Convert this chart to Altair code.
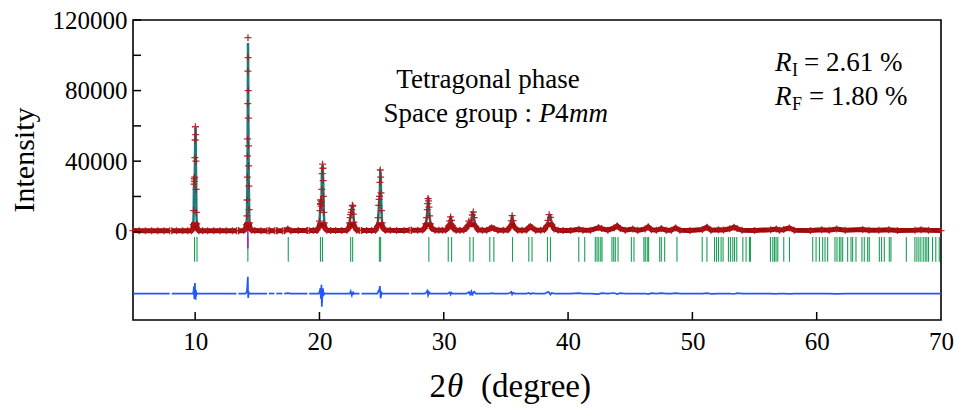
import altair as alt
import pandas as pd

# ---------------- data ----------------
# observed profile (2theta, intensity) and difference (obs - calc)
two_theta = [
    5.0, 5.5, 6.0, 6.5, 7.0, 7.5, 8.0, 8.5, 9.0, 9.4, 9.7,
    9.80, 9.85, 9.88, 9.90, 9.92, 9.94, 9.96, 9.98, 10.00, 10.02, 10.04, 10.06, 10.08, 10.10, 10.13, 10.18, 10.30,
    10.6, 11.0, 11.5, 12.0, 12.5, 13.0, 13.5, 13.9,
    14.05, 14.12, 14.16, 14.18, 14.20, 14.21, 14.22, 14.23, 14.24, 14.25, 14.26, 14.27, 14.28, 14.29, 14.30, 14.32, 14.34, 14.37, 14.42, 14.55,
    14.8, 15.3, 16.0, 16.6, 17.2, 17.45, 17.7, 18.3, 19.0, 19.5, 19.8,
    19.95, 20.00, 20.04, 20.07, 20.09, 20.11, 20.13, 20.16, 20.19, 20.22, 20.25, 20.28, 20.30, 20.32, 20.35, 20.39, 20.45, 20.60,
    20.9, 21.3, 21.8, 22.2,
    22.35, 22.42, 22.47, 22.51, 22.55, 22.60, 22.65, 22.69, 22.73, 22.78, 22.85, 23.00,
    23.4, 23.8, 24.2, 24.5,
    24.65, 24.72, 24.77, 24.80, 24.83, 24.86, 24.89, 24.92, 24.95, 24.99, 25.04, 25.12, 25.30,
    25.7, 26.2, 26.8, 27.4, 27.9, 28.3,
    28.45, 28.55, 28.62, 28.67, 28.71, 28.74, 28.77, 28.81, 28.86, 28.93, 29.05, 29.30,
    29.6, 29.9, 30.15,
    30.30, 30.40, 30.48, 30.55, 30.62, 30.70, 30.82, 31.00,
    31.3, 31.6,
    31.80, 31.92, 32.02, 32.12, 32.22, 32.30, 32.37, 32.45, 32.57, 32.75,
    33.1, 33.45, 33.7, 33.85, 34.05, 34.35, 34.8,
    35.15, 35.32, 35.43, 35.50, 35.58, 35.70, 35.95,
    36.3, 36.65, 36.85, 36.97, 37.12, 37.4, 37.8,
    38.10, 38.27, 38.38, 38.48, 38.58, 38.70, 38.88, 39.20,
    39.6, 40.2, 40.86, 41.2, 41.8, 42.45, 42.70, 43.20, 43.70, 43.95,
    44.20, 44.60, 45.20, 45.60, 46.20, 46.45, 46.70, 47.10, 47.50, 47.90,
    48.30, 48.65, 49.00, 49.80, 50.80, 51.17, 51.50, 52.10, 52.50, 53.00,
    53.35, 53.60, 54.00, 55.00, 56.30, 56.75, 57.00, 57.35, 57.80, 58.20,
    59.50, 60.40, 61.00, 61.60, 62.30, 63.70, 64.20, 65.00, 65.80, 66.50,
    67.90, 68.40, 69.00, 70.00,
]
i_obs = [
    650, 620, 600, 580, 560, 550, 540, 530, 530, 550, 600,
    1500, 4000, 12000, 27000, 30000, 28500, 31000, 42000, 52000, 59500, 55000, 40000, 24000, 11000, 4500, 1500, 600,
    580, 570, 560, 560, 570, 580, 620, 700,
    1500, 4000, 9000, 18000, 31000, 43000, 52600, 72600, 91000, 110000, 98700, 80000, 64400, 48700, 37300, 25900, 12600, 5000, 2000, 800,
    650, 620, 600, 600, 620, 1500, 640, 650, 660, 700, 750,
    2500, 6000, 12000, 16000, 18000, 15500, 14500, 17000, 24000, 33000, 38300, 36000, 29000, 20000, 11000, 5000, 2000, 800,
    750, 720, 730, 850,
    2000, 5000, 8000, 9700, 11000, 12600, 15000, 14500, 10000, 5500, 2500, 900,
    780, 760, 780, 850,
    3000, 8000, 15000, 18300, 20000, 28000, 35000, 31000, 22000, 12000, 5000, 2000, 900,
    800, 780, 770, 790, 820, 950,
    2000, 4500, 8000, 12500, 16000, 18800, 17500, 14000, 9000, 4500, 1800, 900,
    850, 850, 950,
    1800, 3500, 6000, 8400, 6500, 3500, 1500, 900,
    850, 950,
    1800, 3500, 6000, 5000, 6500, 9500, 11200, 8000, 3000, 1100,
    850, 900, 1700, 2300, 1800, 850, 800,
    1000, 2800, 6200, 9100, 6300, 2400, 900,
    800, 1000, 2500, 3000, 2300, 900, 850,
    1200, 3200, 6500, 9700, 8200, 4200, 1600, 850,
    780, 750, 1400, 900, 800, 2400, 1800, 900, 2200, 3300,
    1800, 900, 1500, 800, 1600, 2800, 1200, 850, 1800, 900,
    850, 2200, 800, 750, 1300, 2600, 900, 1100, 1000, 1700,
    2600, 1800, 800, 700, 1200, 1500, 900, 1300, 2200, 800,
    700, 1100, 900, 1500, 900, 1300, 900, 800, 1200, 700,
    900, 1100, 800, 700,
]
i_diff = [
    0, 0, 0, 0, 0, 0, 0, 0, 0, 0, 0,
    0, 500, 2000, 4000, -1000, -3000, 1500, 6000, 2500, 500, -3500, 2000, -1500, 500, 0, 0, 0,
    0, 0, 0, 0, 0, 0, 0, 0,
    0, 500, 1500, 3000, 4500, 6000, 7500, 8500, 9500, 3000, -1000, -2500, -1500, 500, 1000, 500, 0, 0, 0, 0,
    0, 0, 0, 0, 0, 200, 0, 0, 0, 0, 0,
    0, 1000, 2000, 3000, 1500, -3000, -1000, 5000, -7500, -3000, 500, 3000, 1500, -1500, 500, 0, 0, 0,
    0, 0, 0, 0,
    0, 0, 500, 1200, 0, -1000, 800, -800, 500, 0, 0, 0,
    0, 0, 0, 0,
    0, 800, 2000, 1000, 2500, 4200, 1000, -2700, -1500, 500, 0, 0, 0,
    0, 0, 0, 0, 0, 0,
    0, 300, 800, 1500, 500, -1000, -500, 800, 300, 0, 0, 0,
    0, 0, 0,
    0, 300, 700, -600, 400, 0, 0, 0,
    0, 0,
    0, 300, 800, -500, 1200, -1200, 600, 1000, 0, 0,
    0, 0, 0, 200, 0, 0, 0,
    0, 300, 900, -500, 500, 0, 0,
    0, 0, 300, -300, 200, 0, 0,
    0, 400, 900, 600, -600, 300, 0, 0,
    0, 0, 200, 0, 0, -300, 200, 0, 300, -300,
    200, 0, 0, 0, 0, -300, 200, 0, 200, 0,
    0, 200, 0, 0, 0, 250, -200, 0, 0, 0,
    -250, 200, 0, 0, 0, -200, 0, 0, -250, 0,
    0, 0, 0, -200, 0, 0, 0, 0, 0, 0,
    0, 0, 0, 0,
]

# short breaks in the measured pattern (start, end of each break, in 2theta)
gap_start = [7.95, 13.32, 15.78, 16.38, 17.02, 19.03, 23.22, 27.22]
gap_end = [8.12, 13.48, 15.92, 16.52, 17.16, 19.17, 23.38, 27.38]
gap_level = [540, 600, 600, 600, 610, 660, 770, 790]   # background at the break edges

# Bragg reflection positions (tetragonal P4mm)
bragg_pos = [
    9.95, 10.15, 14.24, 17.49, 20.08, 20.24, 22.51, 22.67, 24.82, 24.92,
    28.80, 30.36, 30.63, 32.10, 32.37, 33.70, 34.03, 35.53, 36.84, 37.10,
    38.34, 38.58, 40.86, 41.34, 42.19, 42.33, 42.47, 42.63, 42.73, 43.53,
    43.67, 43.80, 44.02, 45.09, 45.30, 46.10, 46.21, 46.37, 46.48, 47.37,
    47.50, 47.77, 48.76, 50.79, 51.17, 51.78, 51.94, 52.10, 52.31, 52.47,
    52.90, 53.06, 53.25, 53.39, 53.57, 54.06, 54.32, 54.59, 54.67, 56.28,
    56.47, 56.60, 56.73, 56.87, 57.35, 57.81, 59.68, 59.95, 60.22, 60.48,
    60.67, 60.88, 61.47, 61.63, 61.82, 61.95, 62.09, 62.49, 62.76, 62.89,
    63.16, 63.64, 63.83, 64.10, 64.23, 65.04, 65.22, 65.44, 65.84, 65.97,
    67.21, 67.90, 68.06, 68.22, 68.38, 68.57, 68.73, 68.86, 69.00, 69.32,
    69.58, 69.86,
]
marker_pos = [14.24]          # purple marker
marker_top, marker_bottom = 4000, -9500
tick_top, tick_bottom = -3000, -17000
diff_offset = -35000

x_ticks = [10, 20, 30, 40, 50, 60, 70]
x_inner_ticks = [10, 20, 30, 40, 50, 60]
y_label_ticks = [0, 40000, 80000, 120000]
y_inner_ticks = [0, 20000, 40000, 60000, 80000, 100000, 120000]

# ---------------- build ----------------
FONT = "Liberation Serif"
RED = "#9e0b0b"
TEAL = "#1f7c7a"
BLUE = "#2356ff"
GREEN = "#1b9e57"

df = pd.DataFrame({"tt": two_theta, "obs": i_obs, "diff": i_diff})
edges = pd.DataFrame({"tt": gap_start + gap_end, "obs": gap_level + gap_level,
                      "diff": [0] * (2 * len(gap_start))})
inside = pd.Series(False, index=df.index)
for s, e in zip(gap_start, gap_end):
    inside |= (df["tt"] > s) & (df["tt"] < e)
df = pd.concat([df[~inside], edges], ignore_index=True).sort_values("tt").reset_index(drop=True)
df["seg"] = [sum(t >= e for e in gap_end) for t in df["tt"]]
df["calc"] = df["obs"] - df["diff"]
df["band"] = df["obs"].clip(upper=4000)
df["dline"] = df["diff"] + diff_offset

xs = alt.Scale(domain=[5, 70], nice=False, zero=False)
ys = alt.Scale(domain=[-50000, 120000], nice=False, zero=False)

x_axis = alt.Axis(values=x_ticks, tickSize=0, domain=False, grid=False,
                  labelFont=FONT, labelFontSize=25, labelColor="black",
                  labelPadding=9, labelFlush=False, labelOverlap=False, title=None)
y_axis = alt.Axis(values=y_label_ticks, format="d", tickSize=0, domain=False, grid=False,
                  labelFont=FONT, labelFontSize=25, labelColor="black",
                  labelPadding=6, labelOverlap=False, title=None)


def X(field):
    return alt.X(field, type="quantitative", scale=xs, axis=x_axis)


def Y(field):
    return alt.Y(field, type="quantitative", scale=ys, axis=y_axis)


base = alt.Chart(df)

calc_line = base.mark_line(color=TEAL, strokeWidth=2.5).encode(
    x=X("tt"), y=Y("calc"), detail="seg:N")
band_line = base.mark_line(color=RED, strokeWidth=5).encode(
    x=X("tt"), y=Y("band"), detail="seg:N")
crosses = base.mark_point(shape="M-1,0H1M0,-1V1", size=49, filled=False, color="#b0161a",
                          strokeWidth=1.3, opacity=0.9).encode(x=X("tt"), y=Y("obs"))
diff_line = base.mark_line(color=BLUE, strokeWidth=1.7).encode(
    x=X("tt"), y=Y("dline"), detail="seg:N")

bragg = alt.Chart(pd.DataFrame({"pos": bragg_pos})).mark_rule(
    color=GREEN, strokeWidth=1.1).encode(
    x=X("pos"), y=alt.Y(datum=tick_top, scale=ys, axis=y_axis), y2=alt.datum(tick_bottom))

marker = alt.Chart(pd.DataFrame({"pos": marker_pos})).mark_rule(
    color="#8a2be2", strokeWidth=1.6).encode(
    x=X("pos"), y=alt.Y(datum=marker_top, scale=ys, axis=y_axis), y2=alt.datum(marker_bottom))

ytick_rules = alt.Chart(pd.DataFrame({"v": y_inner_ticks})).mark_rule(
    color="black", strokeWidth=1.5).encode(
    y=Y("v"), x=alt.value(0), x2=alt.value(8))
xtick_rules = alt.Chart(pd.DataFrame({"v": x_inner_ticks})).mark_rule(
    color="black", strokeWidth=1.5).encode(
    x=X("v"), y=alt.value(300), y2=alt.value(292))

one = alt.Data(values=[{}])


def txt(text, x, y, size=27, style="normal", align="left", angle=0, baseline="alphabetic"):
    return alt.Chart(one).mark_text(
        text=text, font=FONT, fontSize=size, fontStyle=style, align=align,
        baseline=baseline, angle=angle, color="black").encode(
        x=alt.value(x), y=alt.value(y))


texts = [
    txt("Tetragonal phase", 355, 68, align="center"),
    txt("Space group :", 399, 102, align="right"),
    txt("P", 406, 102, style="italic"),
    txt("4", 422, 102),
    txt("mm", 436, 102, style="italic"),
    txt("R", 642, 51, style="italic"),
    txt("I", 659, 56, size=18),
    txt("= 2.61 %", 671, 51),
    txt("R", 642, 85, style="italic"),
    txt("F", 659, 90, size=18),
    txt("= 1.80 %", 676, 85),
    txt("Intensity", -108, 140, size=30, align="center", angle=270, baseline="middle"),
    txt("2", 313, 377, size=33, align="right"),
    txt("θ", 314, 377, size=33, style="italic"),
    txt("(degree)", 348, 377, size=33),
]

chart = alt.layer(
    bragg, marker, diff_line, calc_line, band_line, crosses,
    ytick_rules, xtick_rules, *texts
).properties(
    width=808, height=300,
    autosize=alt.AutoSizeParams(type="none"),
    padding={"left": 125, "top": 12, "right": 13, "bottom": 86},
    background="white",
).configure_view(stroke="black", strokeWidth=1.6)

chart.save("out.html", embed_options={"renderer": "svg", "actions": False})
